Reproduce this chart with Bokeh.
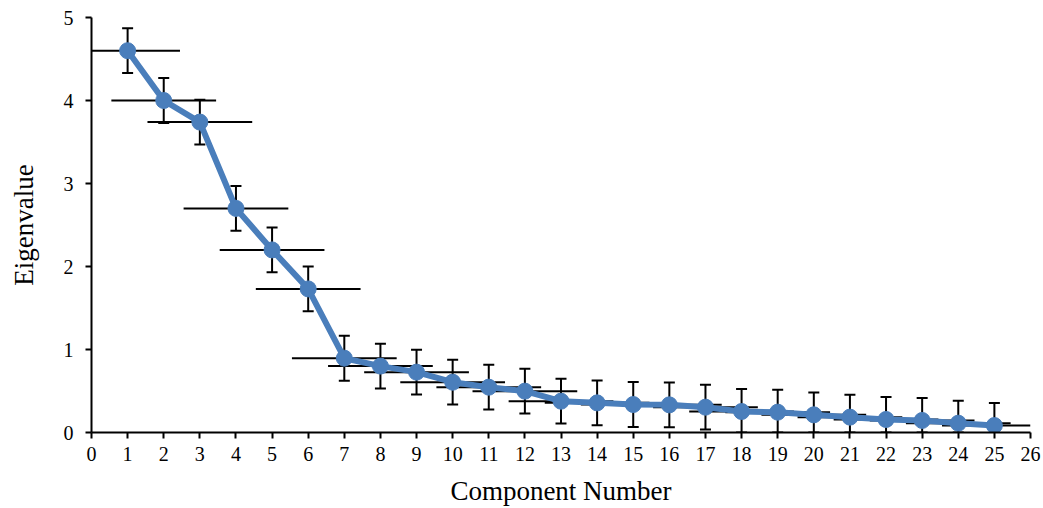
from bokeh.plotting import figure
from bokeh.models import ColumnDataSource, Whisker, TeeHead, FixedTicker, Range1d
from bokeh.embed import file_html
from bokeh.resources import INLINE

components = list(range(1, 26))
eigenvalues = [4.60, 4.00, 3.74, 2.70, 2.20, 1.73, 0.895, 0.80, 0.727, 0.606,
               0.546, 0.498, 0.377, 0.357, 0.337, 0.333, 0.305, 0.253, 0.245, 0.213,
               0.185, 0.157, 0.145, 0.112, 0.084]
y_err = [0.27] * 25
x_err = [1.45] * 25
x_ticks = list(range(0, 27))
y_ticks = list(range(0, 6))

X_MIN, X_MAX, Y_MIN, Y_MAX = 0, 26, 0, 5

src = ColumnDataSource(dict(
    x=components,
    y=eigenvalues,
    ylo=[max(v - e, Y_MIN) for v, e in zip(eigenvalues, y_err)],
    yhi=[min(v + e, Y_MAX) for v, e in zip(eigenvalues, y_err)],
    xlo=[max(c - e, X_MIN) for c, e in zip(components, x_err)],
    xhi=[min(c + e, X_MAX) for c, e in zip(components, x_err)],
))

p = figure(width=1043, height=508, output_backend="svg", toolbar_location=None,
           x_range=Range1d(X_MIN, X_MAX), y_range=Range1d(Y_MIN, Y_MAX),
           min_border_left=91, min_border_right=13, min_border_top=17, min_border_bottom=76)
p.outline_line_color = None
p.xgrid.visible = False
p.ygrid.visible = False

FONT = "Liberation Serif"
for ax in (p.xaxis[0], p.yaxis[0]):
    ax.axis_line_color = "black"
    ax.axis_line_width = 2
    ax.major_tick_line_color = "black"
    ax.major_tick_line_width = 2
    ax.major_tick_out = 6
    ax.major_tick_in = 0
    ax.minor_tick_line_color = None
    ax.major_label_text_font = FONT
    ax.major_label_text_font_size = "20px"
    ax.major_label_text_color = "black"
    ax.axis_label_text_font = FONT
    ax.axis_label_text_font_size = "27px"
    ax.axis_label_text_font_style = "normal"
    ax.axis_label_text_color = "black"

p.xaxis.ticker = FixedTicker(ticks=x_ticks)
p.yaxis.ticker = FixedTicker(ticks=y_ticks)
p.xaxis.axis_label = "Component Number"
p.yaxis.axis_label = "Eigenvalue"
p.xaxis.major_label_standoff = 8
p.yaxis.major_label_standoff = 12
p.xaxis.axis_label_standoff = 12
p.yaxis.axis_label_standoff = 22

hbar = Whisker(source=src, base="y", lower="xlo", upper="xhi", dimension="width",
               line_color="black", line_width=2, upper_head=None, lower_head=None)
vbar = Whisker(source=src, base="x", lower="ylo", upper="yhi", dimension="height",
               line_color="black", line_width=2,
               upper_head=TeeHead(size=11, line_color="black", line_width=2),
               lower_head=TeeHead(size=11, line_color="black", line_width=2))
p.add_layout(hbar)
p.add_layout(vbar)

blue = "#4a7ebb"
p.line("x", "y", source=src, line_color=blue, line_width=6, line_join="round")
p.scatter("x", "y", source=src, size=16, fill_color=blue, line_color=blue)

open("out.html", "w").write(file_html(p, INLINE))
